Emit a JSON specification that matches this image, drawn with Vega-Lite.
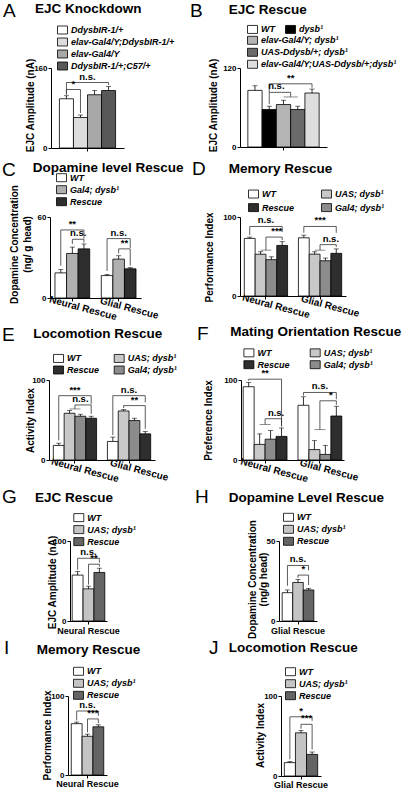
{
"$schema": "https://vega.github.io/schema/vega-lite/v6.json",
"padding": 0,
"background": "white",
"datasets": {
"bars": [
{"p":"A","bar":"a1","geno":"DdysbIR-1/+","mean":98.5,"upper":104.5},
{"p":"A","bar":"a2","geno":"elav-Gal4/Y;DdysbIR-1/+","mean":61,"upper":66},
{"p":"A","bar":"a3","geno":"elav-Gal4/Y","mean":106.5,"upper":115},
{"p":"A","bar":"a4","geno":"DdysbIR-1/+;C57/+","mean":115,"upper":123},
{"p":"B","bar":"b1","geno":"WT","mean":86,"upper":93},
{"p":"B","bar":"b2","geno":"dysb¹","mean":57,"upper":62},
{"p":"B","bar":"b3","geno":"elav-Gal4/Y; dysb¹","mean":64.5,"upper":71},
{"p":"B","bar":"b4","geno":"UAS-Ddysb/+; dysb¹","mean":57,"upper":62},
{"p":"B","bar":"b5","geno":"elav-Gal4/Y;UAS-Ddysb/+;dysb¹","mean":82,"upper":88},
{"p":"C","bar":"c1","geno":"WT","mean":18.6,"upper":21},
{"p":"C","bar":"c2","geno":"Gal4; dysb¹","mean":33,"upper":37.7},
{"p":"C","bar":"c3","geno":"Rescue","mean":36.4,"upper":40},
{"p":"C","bar":"c5","geno":"WT","mean":16.6,"upper":17.4},
{"p":"C","bar":"c6","geno":"Gal4; dysb¹","mean":28.8,"upper":31.3},
{"p":"C","bar":"c7","geno":"Rescue","mean":21.6,"upper":22.4},
{"p":"D","bar":"d1","geno":"WT","mean":72.9,"upper":74.6},
{"p":"D","bar":"d2","geno":"UAS; dysb¹","mean":52.9,"upper":56},
{"p":"D","bar":"d3","geno":"Gal4; dysb¹","mean":46,"upper":49.6},
{"p":"D","bar":"d4","geno":"Rescue","mean":64,"upper":68.8},
{"p":"D","bar":"d6","geno":"WT","mean":73.7,"upper":77},
{"p":"D","bar":"d7","geno":"UAS; dysb¹","mean":53,"upper":56},
{"p":"D","bar":"d8","geno":"Gal4; dysb¹","mean":44.6,"upper":48},
{"p":"D","bar":"d9","geno":"Rescue","mean":54,"upper":59.6},
{"p":"E","bar":"e1","geno":"WT","mean":18.2,"upper":21},
{"p":"E","bar":"e2","geno":"UAS; dysb¹","mean":58.4,"upper":61.8},
{"p":"E","bar":"e3","geno":"Gal4; dysb¹","mean":54.7,"upper":57.2},
{"p":"E","bar":"e4","geno":"Rescue","mean":52.2,"upper":54.7},
{"p":"E","bar":"e6","geno":"WT","mean":23.2,"upper":28.6},
{"p":"E","bar":"e7","geno":"UAS; dysb¹","mean":61.3,"upper":63},
{"p":"E","bar":"e8","geno":"Gal4; dysb¹","mean":49.3,"upper":52.2},
{"p":"E","bar":"e9","geno":"Rescue","mean":32.7,"upper":35.6},
{"p":"F","bar":"f1","geno":"WT","mean":91.6,"upper":97},
{"p":"F","bar":"f2","geno":"UAS; dysb¹","mean":19.5,"upper":32.6},
{"p":"F","bar":"f3","geno":"Gal4; dysb¹","mean":26,"upper":36.8},
{"p":"F","bar":"f4","geno":"Rescue","mean":29.5,"upper":40},
{"p":"F","bar":"f6","geno":"WT","mean":68.4,"upper":79},
{"p":"F","bar":"f7","geno":"UAS; dysb¹","mean":13,"upper":24.2},
{"p":"F","bar":"f8","geno":"Gal4; dysb¹","mean":7,"upper":18.3},
{"p":"F","bar":"f9","geno":"Rescue","mean":55,"upper":67.2},
{"p":"G","bar":"g1","geno":"WT","mean":57.4,"upper":62},
{"p":"G","bar":"g2","geno":"UAS; dysb¹","mean":40.2,"upper":43.5},
{"p":"G","bar":"g3","geno":"Rescue","mean":60.7,"upper":66},
{"p":"H","bar":"h1","geno":"WT","mean":17.7,"upper":19.4},
{"p":"H","bar":"h2","geno":"UAS; dysb¹","mean":24.1,"upper":26},
{"p":"H","bar":"h3","geno":"Rescue","mean":19.4,"upper":20.4},
{"p":"I","bar":"i1","geno":"WT","mean":65,"upper":67},
{"p":"I","bar":"i2","geno":"UAS; dysb¹","mean":49,"upper":51.7},
{"p":"I","bar":"i3","geno":"Rescue","mean":61,"upper":63.5},
{"p":"J","bar":"j1","geno":"WT","mean":16.7,"upper":18},
{"p":"J","bar":"j2","geno":"UAS; dysb¹","mean":54,"upper":57},
{"p":"J","bar":"j3","geno":"Rescue","mean":27,"upper":30}
],
"brackets": [
{"p":"A","a":"a1","aE":0,"b":"a4","bE":0,"y":131,"ya":107,"yb":126,"label":"n.s.","at":"a3","atE":1},
{"p":"A","a":"a1","aE":0,"b":"a2","bE":0,"y":117,"ya":107,"yb":70,"label":"*","at":"a2","atE":1},
{"p":"B","a":"b2","aE":0,"b":"b5","bE":0,"y":96,"ya":83,"yb":90,"label":"**","at":"b4","atE":1},
{"p":"B","a":"b2","aE":0,"b":"b4","bE":1,"y":83,"ya":65,"yb":76,"label":"n.s.","at":"b3","atE":1},
{"p":"C","a":"c1","aE":0,"b":"c3","bE":0,"y":50.4,"ya":24,"yb":44,"label":"**","at":"c2","atE":0},
{"p":"C","a":"c2","aE":0,"b":"c3","bE":0,"y":43.5,"ya":40,"yb":41,"label":"n.s.","at":"c3","atE":1},
{"p":"C","a":"c5","aE":0,"b":"c7","bE":0,"y":44,"ya":20,"yb":37,"label":"n.s.","at":"c6","atE":0},
{"p":"C","a":"c6","aE":0,"b":"c7","bE":0,"y":36.4,"ya":33,"yb":24,"label":"**","at":"c7","atE":1},
{"p":"D","a":"d1","aE":0,"b":"d4","bE":0,"y":88,"ya":77,"yb":81,"label":"n.s.","at":"d3","atE":1},
{"p":"D","a":"d3","aE":1,"b":"d4","bE":0,"y":74.6,"ya":58,"yb":71,"label":"***","at":"d4","atE":1},
{"p":"D","a":"d6","aE":0,"b":"d9","bE":0,"y":88,"ya":80,"yb":80,"label":"***","at":"d8","atE":1},
{"p":"D","a":"d8","aE":1,"b":"d9","bE":0,"y":65,"ya":58,"yb":62,"label":"n.s.","at":"d9","atE":1},
{"p":"E","a":"e1","aE":0,"b":"e4","bE":0,"y":80.4,"ya":24.5,"yb":70,"label":"***","at":"e3","atE":1},
{"p":"E","a":"e3","aE":1,"b":"e4","bE":0,"y":68.8,"ya":63.8,"yb":57.6,"label":"n.s.","at":"e3","atE":0},
{"p":"E","a":"e6","aE":0,"b":"e9","bE":0,"y":80.4,"ya":31,"yb":72,"label":"n.s.","at":"e8","atE":1},
{"p":"E","a":"e7","aE":0,"b":"e9","bE":0,"y":68,"ya":65,"yb":39,"label":"**","at":"e8","atE":0},
{"p":"F","a":"f1","aE":0,"b":"f4","bE":0,"y":101,"ya":99,"yb":42,"label":"**","at":"f3","atE":1},
{"p":"F","a":"f3","aE":1,"b":"f4","bE":0,"y":51.6,"ya":44.4,"yb":42,"label":"n.s.","at":"f4","atE":1},
{"p":"F","a":"f6","aE":0,"b":"f9","bE":0,"y":84.4,"ya":80.5,"yb":76,"label":"n.s.","at":"f8","atE":1},
{"p":"F","a":"f8","aE":1,"b":"f9","bE":0,"y":74,"ya":38,"yb":69,"label":"*","at":"f9","atE":1},
{"p":"G","a":"g1","aE":0,"b":"g3","bE":0,"y":78.4,"ya":64,"yb":73,"label":"n.s.","at":"g2","atE":0},
{"p":"G","a":"g2","aE":0,"b":"g3","bE":0,"y":71,"ya":45.5,"yb":68,"label":"**","at":"g3","atE":1},
{"p":"H","a":"h1","aE":0,"b":"h3","bE":0,"y":34.7,"ya":22,"yb":31.7,"label":"n.s.","at":"h2","atE":0},
{"p":"H","a":"h2","aE":0,"b":"h3","bE":0,"y":28.7,"ya":27,"yb":22.5,"label":"*","at":"h3","atE":1},
{"p":"I","a":"i1","aE":0,"b":"i3","bE":0,"y":81,"ya":69,"yb":75,"label":"n.s.","at":"i2","atE":0},
{"p":"I","a":"i2","aE":0,"b":"i3","bE":0,"y":71,"ya":54,"yb":65.5,"label":"***","at":"i3","atE":1},
{"p":"J","a":"j1","aE":0,"b":"j3","bE":0,"y":74,"ya":21,"yb":69,"label":"*","at":"j2","atE":0},
{"p":"J","a":"j2","aE":0,"b":"j3","bE":0,"y":64.6,"ya":59,"yb":33,"label":"***","at":"j3","atE":1}
],
"subs": [
{"p":"B","a":"b3","b":"b4","y":76},
{"p":"D","a":"d2","b":"d3","y":58},
{"p":"D","a":"d7","b":"d8","y":58},
{"p":"E","a":"e2","b":"e3","y":63.8},
{"p":"F","a":"f2","b":"f3","y":44.4},
{"p":"F","a":"f7","b":"f8","y":38}
]
},
"config": {
"font": "Liberation Sans",
"view": {"stroke": null},
"axis": {"labelFont": "Liberation Sans","labelFontWeight": "bold","labelFontSize": 8,"labelColor": "black","titleFont": "Liberation Sans","titleFontWeight": "bold","titleFontSize": 10,"titleColor": "black","domainColor": "black","domainWidth": 1,"tickColor": "black","tickSize": 3,"tickWidth": 1,"grid": false,"labelPadding": 1},
"axisY": {"titleAngle": -90,"titleAlign": "center","titleBaseline": "alphabetic","labelFlush": false,"labelOverlap": false},
"axisX": {"labelOverlap": false,"labelFlush": false},
"legend": {"labelFont": "Liberation Sans","labelFontStyle": "italic","labelFontWeight": "bold","labelFontSize": 9,"labelColor": "black","symbolType": "M-1,-0.8H1V0.8H-1Z","symbolSize": 100,"symbolStrokeColor": "black","symbolStrokeWidth": 0.8,"symbolOpacity": 1,"padding": 0,"labelOffset": 3,"rowPadding": 2,"columnPadding": 10},
"title": {"font": "Liberation Sans","color": "black","anchor": "start","frame": "group","baseline": "alphabetic"}
},
"spacing": 0,
"bounds": "flush",
"columns": 6,
"resolve": {"scale": {"fill": "independent"}, "legend": {"fill": "independent"}},
"concat": [
{"width": 1, "height": 68, "data": {"values": []}, "mark": "point"},
{"width": 1, "height": 1, "data": {"values": []}, "mark": "point"},
{"width": 198, "height": 1, "data": {"values": []}, "mark": "point"},
{"width": 1, "height": 1, "data": {"values": []}, "mark": "point"},
{"width": 1, "height": 1, "data": {"values": []}, "mark": "point"},
{"width": 150, "height": 1, "data": {"values": []}, "mark": "point"},
{"width": 1, "height": 149, "data": {"values": []}, "mark": "point", "title": {"text": "A", "offset": 47, "dx": 3, "fontSize": 19, "fontWeight": "normal"}},
{"width": 1, "height": 10, "data": {"values": []}, "mark": "point", "title": {"text": "EJC Knockdown", "offset": 53, "dx": 34, "fontSize": 13.5, "fontWeight": "bold"}},
{"width": 198, "height": 80, "layer": [
{"data":{"name":"bars"},"transform":[{"filter":"datum.p=='A'"}],"mark":{"type":"bar","stroke":"black","strokeWidth":0.8},"encoding":{
"x":{"field":"bar","type":"nominal","scale":{"type":"band","domain":["a1","a2","a3","a4"],"range":[49,122],"paddingInner":0,"paddingOuter":0.6},"axis":{"title":null,"labels":false,"values":["a3"],"bandPosition":0}},
"y":{"field":"mean","type":"quantitative","scale":{"domain":[0,160],"nice":false},"axis":{"offset":-49,"values":[0,20,40,60,80,100,120,140,160],"labelExpr":"datum.value % 40 == 0 ? datum.label : ''","title":"EJC Amplitude (nA)","titleX":-17.4,"titleY":37}},
"fill":{"field":"geno","type":"nominal","scale":{"domain":["DdysbIR-1/+","elav-Gal4/Y;DdysbIR-1/+","elav-Gal4/Y","DdysbIR-1/+;C57/+"],"range":["#ffffff","#dcdcdc","#a8a8a8","#585858"]},"legend":{"title":null,"orient":"none","legendX":55,"legendY":-43.5,"rowPadding":-1.3}}}},
{"data":{"name":"bars"},"transform":[{"filter":"datum.p=='A'"}],"mark":{"type":"rule","color":"black","strokeWidth":0.8},"encoding":{"x":{"field":"bar","type":"nominal"},"y":{"field":"mean","type":"quantitative"},"y2":{"field":"upper"}}},
{"data":{"name":"bars"},"transform":[{"filter":"datum.p=='A'"}],"mark":{"type":"tick","orient":"horizontal","size":5,"thickness":0.8,"color":"black"},"encoding":{"x":{"field":"bar","type":"nominal"},"y":{"field":"upper","type":"quantitative"}}},
{"data":{"name":"brackets"},"transform":[{"filter":"datum.p=='A' && datum.aE==0 && datum.bE==0"}],"mark":{"type":"rule","color":"#333","strokeWidth":0.8},"encoding":{"x":{"field":"a","type":"nominal"},"x2":{"field":"b"},"y":{"field":"y","type":"quantitative"}}},
{"data":{"name":"brackets"},"transform":[{"filter":"datum.p=='A' && datum.aE==0"}],"mark":{"type":"rule","color":"#333","strokeWidth":0.8},"encoding":{"x":{"field":"a","type":"nominal"},"y":{"field":"ya","type":"quantitative"},"y2":{"field":"y"}}},
{"data":{"name":"brackets"},"transform":[{"filter":"datum.p=='A' && datum.bE==0"}],"mark":{"type":"rule","color":"#333","strokeWidth":0.8},"encoding":{"x":{"field":"b","type":"nominal"},"y":{"field":"yb","type":"quantitative"},"y2":{"field":"y"}}},
{"data":{"name":"brackets"},"transform":[{"filter":"datum.p=='A' && datum.atE==1"}],"mark":{"type":"text","baseline":"bottom","dy":-1,"fontSize":9.5,"fontWeight":"bold","color":"black"},"encoding":{"x":{"field":"at","type":"nominal","bandPosition":0},"y":{"field":"y","type":"quantitative"},"text":{"field":"label"}}}
]},
{"width": 1, "height": 10, "data": {"values": []}, "mark": "point", "title": {"text": "B", "offset": 47, "dx": -10, "fontSize": 19, "fontWeight": "normal"}},
{"width": 1, "height": 10, "data": {"values": []}, "mark": "point", "title": {"text": "EJC Rescue", "offset": 52, "dx": 27.7, "fontSize": 13.5, "fontWeight": "bold"}},
{"width": 150, "height": 79, "resolve": {"scale": {"fill": "independent"}}, "layer": [
{"data":{"name":"bars"},"transform":[{"filter":"datum.p=='B' && (datum.bar=='b1' || datum.bar=='b2')"}],"mark":{"type":"bar","stroke":"black","strokeWidth":0.8},"encoding":{
"x":{"field":"bar","type":"nominal","scale":{"type":"band","domain":["b1","b2","b3","b4","b5"],"range":[38,125],"paddingInner":0,"paddingOuter":0.55},"axis":{"title":null,"labels":false,"values":["b3"]}},
"y":{"field":"mean","type":"quantitative","scale":{"domain":[0,120],"nice":false},"axis":{"offset":-38,"values":[0,20,40,60,80,100,120],"labelExpr":"datum.value % 40 == 0 ? datum.label : ''","title":"EJC Amplitude (nA)","titleX":-23.6,"titleY":37}},
"fill":{"field":"geno","type":"nominal","scale":{"domain":["WT","dysb¹"],"range":["#ffffff","#000000"]},"legend":{"title":null,"orient":"none","legendX":45,"legendY":-44.5,"columns":2,"columnPadding":8}}}},
{"data":{"name":"bars"},"transform":[{"filter":"datum.p=='B' && datum.bar!='b1' && datum.bar!='b2'"}],"mark":{"type":"bar","stroke":"black","strokeWidth":0.8},"encoding":{
"x":{"field":"bar","type":"nominal"},
"y":{"field":"mean","type":"quantitative"},
"fill":{"field":"geno","type":"nominal","scale":{"domain":["elav-Gal4/Y; dysb¹","UAS-Ddysb/+; dysb¹","elav-Gal4/Y;UAS-Ddysb/+;dysb¹"],"range":["#b4b4b4","#6a6a6a","#dedede"]},"legend":{"title":null,"orient":"none","legendX":45,"legendY":-33.2,"rowPadding":-2}}}},
{"data":{"name":"bars"},"transform":[{"filter":"datum.p=='B'"}],"mark":{"type":"rule","color":"black","strokeWidth":0.8},"encoding":{"x":{"field":"bar","type":"nominal"},"y":{"field":"mean","type":"quantitative"},"y2":{"field":"upper"}}},
{"data":{"name":"bars"},"transform":[{"filter":"datum.p=='B'"}],"mark":{"type":"tick","orient":"horizontal","size":5,"thickness":0.8,"color":"black"},"encoding":{"x":{"field":"bar","type":"nominal"},"y":{"field":"upper","type":"quantitative"}}},
{"data":{"name":"subs"},"transform":[{"filter":"datum.p=='B'"}],"mark":{"type":"rule","color":"#8c8c8c","strokeWidth":1},"encoding":{"x":{"field":"a","type":"nominal"},"x2":{"field":"b"},"y":{"field":"y","type":"quantitative"}}},
{"data":{"name":"brackets"},"transform":[{"filter":"datum.p=='B' && datum.aE==0 && datum.bE==0"}],"mark":{"type":"rule","color":"#333","strokeWidth":0.8},"encoding":{"x":{"field":"a","type":"nominal"},"x2":{"field":"b"},"y":{"field":"y","type":"quantitative"}}},
{"data":{"name":"brackets"},"transform":[{"filter":"datum.p=='B' && datum.bE==1"}],"mark":{"type":"rule","color":"#333","strokeWidth":0.8},"encoding":{"x":{"field":"a","type":"nominal"},"x2":{"field":"b","bandPosition":0},"y":{"field":"y","type":"quantitative"}}},
{"data":{"name":"brackets"},"transform":[{"filter":"datum.p=='B' && datum.aE==0"}],"mark":{"type":"rule","color":"#333","strokeWidth":0.8},"encoding":{"x":{"field":"a","type":"nominal"},"y":{"field":"ya","type":"quantitative"},"y2":{"field":"y"}}},
{"data":{"name":"brackets"},"transform":[{"filter":"datum.p=='B' && datum.bE==0"}],"mark":{"type":"rule","color":"#333","strokeWidth":0.8},"encoding":{"x":{"field":"b","type":"nominal"},"y":{"field":"yb","type":"quantitative"},"y2":{"field":"y"}}},
{"data":{"name":"brackets"},"transform":[{"filter":"datum.p=='B' && datum.bE==1"}],"mark":{"type":"rule","color":"#333","strokeWidth":0.8},"encoding":{"x":{"field":"b","type":"nominal","bandPosition":0},"y":{"field":"yb","type":"quantitative"},"y2":{"field":"y"}}},
{"data":{"name":"brackets"},"transform":[{"filter":"datum.p=='B' && datum.atE==1"}],"mark":{"type":"text","baseline":"bottom","dy":-1,"fontSize":9.5,"fontWeight":"bold","color":"black"},"encoding":{"x":{"field":"at","type":"nominal","bandPosition":0},"y":{"field":"y","type":"quantitative"},"text":{"field":"label"}}}
]},
{"width": 1, "height": 163, "data": {"values": []}, "mark": "point", "title": {"text": "C", "offset": 37, "dx": 2, "fontSize": 19, "fontWeight": "normal"}},
{"width": 1, "height": 10, "data": {"values": []}, "mark": "point", "title": {"text": "Dopamine level Rescue", "offset": 43, "dx": 31.7, "fontSize": 13.5, "fontWeight": "bold"}},
{"width": 198, "height": 81, "layer": [
{"data":{"name":"bars"},"transform":[{"filter":"datum.p=='C'"}],"mark":{"type":"bar","stroke":"black","strokeWidth":0.8},"encoding":{
"x":{"field":"bar","type":"nominal","scale":{"type":"band","domain":["c1","c2","c3","c4","c5","c6","c7"],"range":[48,139],"paddingInner":0,"paddingOuter":0.43},"axis":{"title":null,"values":["c2","c6"],"labelExpr":"datum.value=='c2' ? 'Neural Rescue' : 'Glial Rescue'","labelAngle":15,"labelAlign":"center","labelBaseline":"top","labelOffset":12,"labelFontSize":10,"labelPadding":2}},
"y":{"field":"mean","type":"quantitative","scale":{"domain":[0,60],"nice":false},"axis":{"offset":-48,"values":[0,5,10,15,20,25,30,35,40,45,50,55,60],"labelExpr":"datum.value % 10 == 0 ? datum.label : ''","title":["Dopamine Concentration","(ng/ g head)"],"titleX":-32.4,"titleY":27,"titleLineHeight":13}},
"fill":{"field":"geno","type":"nominal","scale":{"domain":["WT","Gal4; dysb¹","Rescue"],"range":["#ffffff","#b0b0b0","#2e2e2e"]},"legend":{"title":null,"orient":"none","legendX":54,"legendY":-44.8,"rowPadding":-2.5}}}},
{"data":{"name":"bars"},"transform":[{"filter":"datum.p=='C'"}],"mark":{"type":"rule","color":"black","strokeWidth":0.8},"encoding":{"x":{"field":"bar","type":"nominal"},"y":{"field":"mean","type":"quantitative"},"y2":{"field":"upper"}}},
{"data":{"name":"bars"},"transform":[{"filter":"datum.p=='C'"}],"mark":{"type":"tick","orient":"horizontal","size":5,"thickness":0.8,"color":"black"},"encoding":{"x":{"field":"bar","type":"nominal"},"y":{"field":"upper","type":"quantitative"}}},
{"data":{"name":"brackets"},"transform":[{"filter":"datum.p=='C' && datum.aE==0 && datum.bE==0"}],"mark":{"type":"rule","color":"#333","strokeWidth":0.8},"encoding":{"x":{"field":"a","type":"nominal"},"x2":{"field":"b"},"y":{"field":"y","type":"quantitative"}}},
{"data":{"name":"brackets"},"transform":[{"filter":"datum.p=='C' && datum.aE==0"}],"mark":{"type":"rule","color":"#333","strokeWidth":0.8},"encoding":{"x":{"field":"a","type":"nominal"},"y":{"field":"ya","type":"quantitative"},"y2":{"field":"y"}}},
{"data":{"name":"brackets"},"transform":[{"filter":"datum.p=='C' && datum.bE==0"}],"mark":{"type":"rule","color":"#333","strokeWidth":0.8},"encoding":{"x":{"field":"b","type":"nominal"},"y":{"field":"yb","type":"quantitative"},"y2":{"field":"y"}}},
{"data":{"name":"brackets"},"transform":[{"filter":"datum.p=='C' && datum.atE==0"}],"mark":{"type":"text","baseline":"bottom","dy":-1,"fontSize":9.5,"fontWeight":"bold","color":"black"},"encoding":{"x":{"field":"at","type":"nominal"},"y":{"field":"y","type":"quantitative"},"text":{"field":"label"}}},
{"data":{"name":"brackets"},"transform":[{"filter":"datum.p=='C' && datum.atE==1"}],"mark":{"type":"text","baseline":"bottom","dy":-1,"fontSize":9.5,"fontWeight":"bold","color":"black"},"encoding":{"x":{"field":"at","type":"nominal","bandPosition":0},"y":{"field":"y","type":"quantitative"},"text":{"field":"label"}}}
]},
{"width": 1, "height": 10, "data": {"values": []}, "mark": "point", "title": {"text": "D", "offset": 38, "dx": -8, "fontSize": 19, "fontWeight": "normal"}},
{"width": 1, "height": 10, "data": {"values": []}, "mark": "point", "title": {"text": "Memory Rescue", "offset": 42, "dx": 27.7, "fontSize": 13.5, "fontWeight": "bold"}},
{"width": 150, "height": 79, "layer": [
{"data":{"name":"bars"},"transform":[{"filter":"datum.p=='D'"}],"mark":{"type":"bar","stroke":"black","strokeWidth":0.8},"encoding":{
"x":{"field":"bar","type":"nominal","scale":{"type":"band","domain":["d1","d2","d3","d4","d5","d6","d7","d8","d9"],"range":[38,144],"paddingInner":0,"paddingOuter":0.4},"axis":{"title":null,"values":["d3","d8"],"bandPosition":0,"labelExpr":"datum.value=='d3' ? 'Neural Rescue' : 'Glial Rescue'","labelAngle":15,"labelAlign":"center","labelBaseline":"top","labelOffset":6,"labelFontSize":10,"labelPadding":2}},
"y":{"field":"mean","type":"quantitative","scale":{"domain":[0,100],"nice":false},"axis":{"offset":-38,"values":[0,10,20,30,40,50,60,70,80,90,100],"labelExpr":"datum.value % 20 == 0 ? datum.label : ''","title":"Performance Index","titleX":-27.1,"titleY":40}},
"fill":{"field":"geno","type":"nominal","scale":{"domain":["WT","Rescue","UAS; dysb¹","Gal4; dysb¹"],"range":["#ffffff","#2e2e2e","#c8c8c8","#8c8c8c"]},"legend":{"title":null,"orient":"none","legendX":46,"legendY":-28.9,"columns":2,"columnPadding":24,"rowPadding":1}}}},
{"data":{"name":"bars"},"transform":[{"filter":"datum.p=='D'"}],"mark":{"type":"rule","color":"black","strokeWidth":0.8},"encoding":{"x":{"field":"bar","type":"nominal"},"y":{"field":"mean","type":"quantitative"},"y2":{"field":"upper"}}},
{"data":{"name":"bars"},"transform":[{"filter":"datum.p=='D'"}],"mark":{"type":"tick","orient":"horizontal","size":5,"thickness":0.8,"color":"black"},"encoding":{"x":{"field":"bar","type":"nominal"},"y":{"field":"upper","type":"quantitative"}}},
{"data":{"name":"subs"},"transform":[{"filter":"datum.p=='D'"}],"mark":{"type":"rule","color":"#8c8c8c","strokeWidth":1},"encoding":{"x":{"field":"a","type":"nominal"},"x2":{"field":"b"},"y":{"field":"y","type":"quantitative"}}},
{"data":{"name":"brackets"},"transform":[{"filter":"datum.p=='D' && datum.aE==0 && datum.bE==0"}],"mark":{"type":"rule","color":"#333","strokeWidth":0.8},"encoding":{"x":{"field":"a","type":"nominal"},"x2":{"field":"b"},"y":{"field":"y","type":"quantitative"}}},
{"data":{"name":"brackets"},"transform":[{"filter":"datum.p=='D' && datum.aE==1"}],"mark":{"type":"rule","color":"#333","strokeWidth":0.8},"encoding":{"x":{"field":"a","type":"nominal","bandPosition":0},"x2":{"field":"b"},"y":{"field":"y","type":"quantitative"}}},
{"data":{"name":"brackets"},"transform":[{"filter":"datum.p=='D' && datum.aE==0"}],"mark":{"type":"rule","color":"#333","strokeWidth":0.8},"encoding":{"x":{"field":"a","type":"nominal"},"y":{"field":"ya","type":"quantitative"},"y2":{"field":"y"}}},
{"data":{"name":"brackets"},"transform":[{"filter":"datum.p=='D' && datum.aE==1"}],"mark":{"type":"rule","color":"#333","strokeWidth":0.8},"encoding":{"x":{"field":"a","type":"nominal","bandPosition":0},"y":{"field":"ya","type":"quantitative"},"y2":{"field":"y"}}},
{"data":{"name":"brackets"},"transform":[{"filter":"datum.p=='D' && datum.bE==0"}],"mark":{"type":"rule","color":"#333","strokeWidth":0.8},"encoding":{"x":{"field":"b","type":"nominal"},"y":{"field":"yb","type":"quantitative"},"y2":{"field":"y"}}},
{"data":{"name":"brackets"},"transform":[{"filter":"datum.p=='D' && datum.atE==1"}],"mark":{"type":"text","baseline":"bottom","dy":-1,"fontSize":9.5,"fontWeight":"bold","color":"black"},"encoding":{"x":{"field":"at","type":"nominal","bandPosition":0},"y":{"field":"y","type":"quantitative"},"text":{"field":"label"}}}
]},
{"width": 1, "height": 161, "data": {"values": []}, "mark": "point", "title": {"text": "E", "offset": 35, "dx": 2, "fontSize": 19, "fontWeight": "normal"}},
{"width": 1, "height": 10, "data": {"values": []}, "mark": "point", "title": {"text": "Locomotion Rescue", "offset": 40, "dx": 32.3, "fontSize": 13.5, "fontWeight": "bold"}},
{"width": 198, "height": 80, "layer": [
{"data":{"name":"bars"},"transform":[{"filter":"datum.p=='E'"}],"mark":{"type":"bar","stroke":"black","strokeWidth":0.8},"encoding":{
"x":{"field":"bar","type":"nominal","scale":{"type":"band","domain":["e1","e2","e3","e4","e5","e6","e7","e8","e9"],"range":[47,153],"paddingInner":0,"paddingOuter":0.4},"axis":{"title":null,"values":["e3","e8"],"bandPosition":0,"labelExpr":"datum.value=='e3' ? 'Neural Rescue' : 'Glial Rescue'","labelAngle":15,"labelAlign":"center","labelBaseline":"top","labelOffset":6,"labelFontSize":10,"labelPadding":2}},
"y":{"field":"mean","type":"quantitative","scale":{"domain":[0,100],"nice":false},"axis":{"offset":-47,"values":[0,10,20,30,40,50,60,70,80,90,100],"labelExpr":"datum.value % 20 == 0 ? datum.label : ''","title":"Activity Index","titleX":-15.4,"titleY":40}},
"fill":{"field":"geno","type":"nominal","scale":{"domain":["WT","Rescue","UAS; dysb¹","Gal4; dysb¹"],"range":["#ffffff","#2e2e2e","#c8c8c8","#8c8c8c"]},"legend":{"title":null,"orient":"none","legendX":51,"legendY":-27.5,"columns":2,"columnPadding":11.7,"rowPadding":-1.3}}}},
{"data":{"name":"bars"},"transform":[{"filter":"datum.p=='E'"}],"mark":{"type":"rule","color":"black","strokeWidth":0.8},"encoding":{"x":{"field":"bar","type":"nominal"},"y":{"field":"mean","type":"quantitative"},"y2":{"field":"upper"}}},
{"data":{"name":"bars"},"transform":[{"filter":"datum.p=='E'"}],"mark":{"type":"tick","orient":"horizontal","size":5,"thickness":0.8,"color":"black"},"encoding":{"x":{"field":"bar","type":"nominal"},"y":{"field":"upper","type":"quantitative"}}},
{"data":{"name":"subs"},"transform":[{"filter":"datum.p=='E'"}],"mark":{"type":"rule","color":"#8c8c8c","strokeWidth":1},"encoding":{"x":{"field":"a","type":"nominal"},"x2":{"field":"b"},"y":{"field":"y","type":"quantitative"}}},
{"data":{"name":"brackets"},"transform":[{"filter":"datum.p=='E' && datum.aE==0 && datum.bE==0"}],"mark":{"type":"rule","color":"#333","strokeWidth":0.8},"encoding":{"x":{"field":"a","type":"nominal"},"x2":{"field":"b"},"y":{"field":"y","type":"quantitative"}}},
{"data":{"name":"brackets"},"transform":[{"filter":"datum.p=='E' && datum.aE==1"}],"mark":{"type":"rule","color":"#333","strokeWidth":0.8},"encoding":{"x":{"field":"a","type":"nominal","bandPosition":0},"x2":{"field":"b"},"y":{"field":"y","type":"quantitative"}}},
{"data":{"name":"brackets"},"transform":[{"filter":"datum.p=='E' && datum.aE==0"}],"mark":{"type":"rule","color":"#333","strokeWidth":0.8},"encoding":{"x":{"field":"a","type":"nominal"},"y":{"field":"ya","type":"quantitative"},"y2":{"field":"y"}}},
{"data":{"name":"brackets"},"transform":[{"filter":"datum.p=='E' && datum.aE==1"}],"mark":{"type":"rule","color":"#333","strokeWidth":0.8},"encoding":{"x":{"field":"a","type":"nominal","bandPosition":0},"y":{"field":"ya","type":"quantitative"},"y2":{"field":"y"}}},
{"data":{"name":"brackets"},"transform":[{"filter":"datum.p=='E' && datum.bE==0"}],"mark":{"type":"rule","color":"#333","strokeWidth":0.8},"encoding":{"x":{"field":"b","type":"nominal"},"y":{"field":"yb","type":"quantitative"},"y2":{"field":"y"}}},
{"data":{"name":"brackets"},"transform":[{"filter":"datum.p=='E' && datum.atE==0"}],"mark":{"type":"text","baseline":"bottom","dy":-1,"fontSize":9.5,"fontWeight":"bold","color":"black"},"encoding":{"x":{"field":"at","type":"nominal"},"y":{"field":"y","type":"quantitative"},"text":{"field":"label"}}},
{"data":{"name":"brackets"},"transform":[{"filter":"datum.p=='E' && datum.atE==1"}],"mark":{"type":"text","baseline":"bottom","dy":-1,"fontSize":9.5,"fontWeight":"bold","color":"black"},"encoding":{"x":{"field":"at","type":"nominal","bandPosition":0},"y":{"field":"y","type":"quantitative"},"text":{"field":"label"}}}
]},
{"width": 1, "height": 10, "data": {"values": []}, "mark": "point", "title": {"text": "F", "offset": 36, "dx": -3, "fontSize": 19, "fontWeight": "normal"}},
{"width": 1, "height": 10, "data": {"values": []}, "mark": "point", "title": {"text": "Mating Orientation Rescue", "offset": 42, "dx": 29.3, "fontSize": 13.5, "fontWeight": "bold"}},
{"width": 150, "height": 80, "layer": [
{"data":{"name":"bars"},"transform":[{"filter":"datum.p=='F'"}],"mark":{"type":"bar","stroke":"black","strokeWidth":0.8},"encoding":{
"x":{"field":"bar","type":"nominal","scale":{"type":"band","domain":["f1","f2","f3","f4","f5","f6","f7","f8","f9"],"range":[39,142],"paddingInner":0,"paddingOuter":0.2},"axis":{"title":null,"values":["f3","f8"],"bandPosition":0,"labelExpr":"datum.value=='f3' ? 'Neural Rescue' : 'Glial Rescue'","labelAngle":15,"labelAlign":"center","labelBaseline":"top","labelOffset":5,"labelFontSize":10,"labelPadding":2}},
"y":{"field":"mean","type":"quantitative","scale":{"domain":[0,100],"nice":false},"axis":{"offset":-39,"values":[0,10,20,30,40,50,60,70,80,90,100],"labelExpr":"datum.value % 20 == 0 ? datum.label : ''","title":"Preference Index","titleX":-29.4,"titleY":40}},
"fill":{"field":"geno","type":"nominal","scale":{"domain":["WT","Rescue","UAS; dysb¹","Gal4; dysb¹"],"range":["#ffffff","#2e2e2e","#c8c8c8","#8c8c8c"]},"legend":{"title":null,"orient":"none","legendX":41.4,"legendY":-33.1,"columns":2,"columnPadding":17.3,"rowPadding":-0.7}}}},
{"data":{"name":"bars"},"transform":[{"filter":"datum.p=='F'"}],"mark":{"type":"rule","color":"black","strokeWidth":0.8},"encoding":{"x":{"field":"bar","type":"nominal"},"y":{"field":"mean","type":"quantitative"},"y2":{"field":"upper"}}},
{"data":{"name":"bars"},"transform":[{"filter":"datum.p=='F'"}],"mark":{"type":"tick","orient":"horizontal","size":5,"thickness":0.8,"color":"black"},"encoding":{"x":{"field":"bar","type":"nominal"},"y":{"field":"upper","type":"quantitative"}}},
{"data":{"name":"subs"},"transform":[{"filter":"datum.p=='F'"}],"mark":{"type":"rule","color":"#8c8c8c","strokeWidth":1},"encoding":{"x":{"field":"a","type":"nominal"},"x2":{"field":"b"},"y":{"field":"y","type":"quantitative"}}},
{"data":{"name":"brackets"},"transform":[{"filter":"datum.p=='F' && datum.aE==0 && datum.bE==0"}],"mark":{"type":"rule","color":"#333","strokeWidth":0.8},"encoding":{"x":{"field":"a","type":"nominal"},"x2":{"field":"b"},"y":{"field":"y","type":"quantitative"}}},
{"data":{"name":"brackets"},"transform":[{"filter":"datum.p=='F' && datum.aE==1"}],"mark":{"type":"rule","color":"#333","strokeWidth":0.8},"encoding":{"x":{"field":"a","type":"nominal","bandPosition":0},"x2":{"field":"b"},"y":{"field":"y","type":"quantitative"}}},
{"data":{"name":"brackets"},"transform":[{"filter":"datum.p=='F' && datum.aE==0"}],"mark":{"type":"rule","color":"#333","strokeWidth":0.8},"encoding":{"x":{"field":"a","type":"nominal"},"y":{"field":"ya","type":"quantitative"},"y2":{"field":"y"}}},
{"data":{"name":"brackets"},"transform":[{"filter":"datum.p=='F' && datum.aE==1"}],"mark":{"type":"rule","color":"#333","strokeWidth":0.8},"encoding":{"x":{"field":"a","type":"nominal","bandPosition":0},"y":{"field":"ya","type":"quantitative"},"y2":{"field":"y"}}},
{"data":{"name":"brackets"},"transform":[{"filter":"datum.p=='F' && datum.bE==0"}],"mark":{"type":"rule","color":"#333","strokeWidth":0.8},"encoding":{"x":{"field":"b","type":"nominal"},"y":{"field":"yb","type":"quantitative"},"y2":{"field":"y"}}},
{"data":{"name":"brackets"},"transform":[{"filter":"datum.p=='F' && datum.atE==1"}],"mark":{"type":"text","baseline":"bottom","dy":-1,"fontSize":9.5,"fontWeight":"bold","color":"black"},"encoding":{"x":{"field":"at","type":"nominal","bandPosition":0},"y":{"field":"y","type":"quantitative"},"text":{"field":"label"}}}
]},
{"width": 1, "height": 155, "data": {"values": []}, "mark": "point", "title": {"text": "G", "offset": 34, "dx": 2, "fontSize": 19, "fontWeight": "normal"}},
{"width": 1, "height": 10, "data": {"values": []}, "mark": "point", "title": {"text": "EJC Rescue", "offset": 37, "dx": 34, "fontSize": 13.5, "fontWeight": "bold"}},
{"width": 198, "height": 80, "layer": [
{"data":{"name":"bars"},"transform":[{"filter":"datum.p=='G'"}],"mark":{"type":"bar","stroke":"black","strokeWidth":0.8},"encoding":{
"x":{"field":"bar","type":"nominal","scale":{"type":"band","domain":["g1","g2","g3"],"range":[68,105],"paddingInner":0,"paddingOuter":0.2},"axis":{"title":null,"values":["g2"],"labelExpr":"'Neural Rescue'","labelAngle":0,"labelFontSize":9,"labelPadding":2}},
"y":{"field":"mean","type":"quantitative","scale":{"domain":[0,100],"nice":false},"axis":{"offset":-68,"values":[0,10,20,30,40,50,60,70,80,90,100],"labelExpr":"datum.value % 20 == 0 ? datum.label : ''","title":"EJC Amplitude (nA)","titleX":-14.4,"titleY":41}},
"fill":{"field":"geno","type":"nominal","scale":{"domain":["WT","UAS; dysb¹","Rescue"],"range":["#ffffff","#c4c4c4","#646464"]},"legend":{"title":null,"orient":"none","legendX":71.3,"legendY":-28.9,"rowPadding":-1.2}}}},
{"data":{"name":"bars"},"transform":[{"filter":"datum.p=='G'"}],"mark":{"type":"rule","color":"black","strokeWidth":0.8},"encoding":{"x":{"field":"bar","type":"nominal"},"y":{"field":"mean","type":"quantitative"},"y2":{"field":"upper"}}},
{"data":{"name":"bars"},"transform":[{"filter":"datum.p=='G'"}],"mark":{"type":"tick","orient":"horizontal","size":5,"thickness":0.8,"color":"black"},"encoding":{"x":{"field":"bar","type":"nominal"},"y":{"field":"upper","type":"quantitative"}}},
{"data":{"name":"brackets"},"transform":[{"filter":"datum.p=='G'"}],"mark":{"type":"rule","color":"#333","strokeWidth":0.8},"encoding":{"x":{"field":"a","type":"nominal"},"x2":{"field":"b"},"y":{"field":"y","type":"quantitative"}}},
{"data":{"name":"brackets"},"transform":[{"filter":"datum.p=='G'"}],"mark":{"type":"rule","color":"#333","strokeWidth":0.8},"encoding":{"x":{"field":"a","type":"nominal"},"y":{"field":"ya","type":"quantitative"},"y2":{"field":"y"}}},
{"data":{"name":"brackets"},"transform":[{"filter":"datum.p=='G'"}],"mark":{"type":"rule","color":"#333","strokeWidth":0.8},"encoding":{"x":{"field":"b","type":"nominal"},"y":{"field":"yb","type":"quantitative"},"y2":{"field":"y"}}},
{"data":{"name":"brackets"},"transform":[{"filter":"datum.p=='G' && datum.atE==0"}],"mark":{"type":"text","baseline":"bottom","dy":-1,"fontSize":9.5,"fontWeight":"bold","color":"black"},"encoding":{"x":{"field":"at","type":"nominal"},"y":{"field":"y","type":"quantitative"},"text":{"field":"label"}}},
{"data":{"name":"brackets"},"transform":[{"filter":"datum.p=='G' && datum.atE==1"}],"mark":{"type":"text","baseline":"bottom","dy":-1,"fontSize":9.5,"fontWeight":"bold","color":"black"},"encoding":{"x":{"field":"at","type":"nominal","bandPosition":0},"y":{"field":"y","type":"quantitative"},"text":{"field":"label"}}}
]},
{"width": 1, "height": 10, "data": {"values": []}, "mark": "point", "title": {"text": "H", "offset": 34, "dx": -5, "fontSize": 19, "fontWeight": "normal"}},
{"width": 1, "height": 10, "data": {"values": []}, "mark": "point", "title": {"text": "Dopamine Level Rescue", "offset": 37, "dx": 27.7, "fontSize": 13.5, "fontWeight": "bold"}},
{"width": 150, "height": 80, "layer": [
{"data":{"name":"bars"},"transform":[{"filter":"datum.p=='H'"}],"mark":{"type":"bar","stroke":"black","strokeWidth":0.8},"encoding":{
"x":{"field":"bar","type":"nominal","scale":{"type":"band","domain":["h1","h2","h3"],"range":[77,115],"paddingInner":0,"paddingOuter":0.3},"axis":{"title":null,"values":["h2"],"labelExpr":"'Glial Rescue'","labelAngle":0,"labelFontSize":9,"labelPadding":2}},
"y":{"field":"mean","type":"quantitative","scale":{"domain":[0,50],"nice":false},"axis":{"offset":-77,"values":[0,5,10,15,20,25,30,35,40,45,50],"labelExpr":"datum.value % 10 == 0 ? datum.label : ''","title":["Dopamine Concentration","(ng/g head)"],"titleX":-23.4,"titleY":38,"titleLineHeight":10.5}},
"fill":{"field":"geno","type":"nominal","scale":{"domain":["WT","UAS; dysb¹","Rescue"],"range":["#ffffff","#c4c4c4","#646464"]},"legend":{"title":null,"orient":"none","legendX":81,"legendY":-29.2,"rowPadding":-1.2}}}},
{"data":{"name":"bars"},"transform":[{"filter":"datum.p=='H'"}],"mark":{"type":"rule","color":"black","strokeWidth":0.8},"encoding":{"x":{"field":"bar","type":"nominal"},"y":{"field":"mean","type":"quantitative"},"y2":{"field":"upper"}}},
{"data":{"name":"bars"},"transform":[{"filter":"datum.p=='H'"}],"mark":{"type":"tick","orient":"horizontal","size":5,"thickness":0.8,"color":"black"},"encoding":{"x":{"field":"bar","type":"nominal"},"y":{"field":"upper","type":"quantitative"}}},
{"data":{"name":"brackets"},"transform":[{"filter":"datum.p=='H'"}],"mark":{"type":"rule","color":"#333","strokeWidth":0.8},"encoding":{"x":{"field":"a","type":"nominal"},"x2":{"field":"b"},"y":{"field":"y","type":"quantitative"}}},
{"data":{"name":"brackets"},"transform":[{"filter":"datum.p=='H'"}],"mark":{"type":"rule","color":"#333","strokeWidth":0.8},"encoding":{"x":{"field":"a","type":"nominal"},"y":{"field":"ya","type":"quantitative"},"y2":{"field":"y"}}},
{"data":{"name":"brackets"},"transform":[{"filter":"datum.p=='H'"}],"mark":{"type":"rule","color":"#333","strokeWidth":0.8},"encoding":{"x":{"field":"b","type":"nominal"},"y":{"field":"yb","type":"quantitative"},"y2":{"field":"y"}}},
{"data":{"name":"brackets"},"transform":[{"filter":"datum.p=='H' && datum.atE==0"}],"mark":{"type":"text","baseline":"bottom","dy":-1,"fontSize":9.5,"fontWeight":"bold","color":"black"},"encoding":{"x":{"field":"at","type":"nominal"},"y":{"field":"y","type":"quantitative"},"text":{"field":"label"}}},
{"data":{"name":"brackets"},"transform":[{"filter":"datum.p=='H' && datum.atE==1"}],"mark":{"type":"text","baseline":"bottom","dy":-1,"fontSize":9.5,"fontWeight":"bold","color":"black"},"encoding":{"x":{"field":"at","type":"nominal","bandPosition":0},"y":{"field":"y","type":"quantitative"},"text":{"field":"label"}}}
]},
{"width": 1, "height": 80, "data": {"values": []}, "mark": "point", "title": {"text": "I", "offset": 38, "dx": 4, "fontSize": 19, "fontWeight": "normal"}},
{"width": 1, "height": 10, "data": {"values": []}, "mark": "point", "title": {"text": "Memory Rescue", "offset": 40, "dx": 35.7, "fontSize": 13.5, "fontWeight": "bold"}},
{"width": 198, "height": 79, "layer": [
{"data":{"name":"bars"},"transform":[{"filter":"datum.p=='I'"}],"mark":{"type":"bar","stroke":"black","strokeWidth":0.8},"encoding":{
"x":{"field":"bar","type":"nominal","scale":{"type":"band","domain":["i1","i2","i3"],"range":[66,105],"paddingInner":0,"paddingOuter":0.3},"axis":{"title":null,"values":["i2"],"labelExpr":"'Neural Rescue'","labelAngle":0,"labelFontSize":9,"labelPadding":1}},
"y":{"field":"mean","type":"quantitative","scale":{"domain":[0,100],"nice":false},"axis":{"offset":-66,"values":[0,10,20,30,40,50,60,70,80,90,100],"labelExpr":"datum.value % 20 == 0 ? datum.label : ''","title":"Performance Index","titleX":-17.7,"titleY":39}},
"fill":{"field":"geno","type":"nominal","scale":{"domain":["WT","UAS; dysb¹","Rescue"],"range":["#ffffff","#c4c4c4","#646464"]},"legend":{"title":null,"orient":"none","legendX":71,"legendY":-30.2,"rowPadding":-1.2}}}},
{"data":{"name":"bars"},"transform":[{"filter":"datum.p=='I'"}],"mark":{"type":"rule","color":"black","strokeWidth":0.8},"encoding":{"x":{"field":"bar","type":"nominal"},"y":{"field":"mean","type":"quantitative"},"y2":{"field":"upper"}}},
{"data":{"name":"bars"},"transform":[{"filter":"datum.p=='I'"}],"mark":{"type":"tick","orient":"horizontal","size":5,"thickness":0.8,"color":"black"},"encoding":{"x":{"field":"bar","type":"nominal"},"y":{"field":"upper","type":"quantitative"}}},
{"data":{"name":"brackets"},"transform":[{"filter":"datum.p=='I'"}],"mark":{"type":"rule","color":"#333","strokeWidth":0.8},"encoding":{"x":{"field":"a","type":"nominal"},"x2":{"field":"b"},"y":{"field":"y","type":"quantitative"}}},
{"data":{"name":"brackets"},"transform":[{"filter":"datum.p=='I'"}],"mark":{"type":"rule","color":"#333","strokeWidth":0.8},"encoding":{"x":{"field":"a","type":"nominal"},"y":{"field":"ya","type":"quantitative"},"y2":{"field":"y"}}},
{"data":{"name":"brackets"},"transform":[{"filter":"datum.p=='I'"}],"mark":{"type":"rule","color":"#333","strokeWidth":0.8},"encoding":{"x":{"field":"b","type":"nominal"},"y":{"field":"yb","type":"quantitative"},"y2":{"field":"y"}}},
{"data":{"name":"brackets"},"transform":[{"filter":"datum.p=='I' && datum.atE==0"}],"mark":{"type":"text","baseline":"bottom","dy":-1,"fontSize":9.5,"fontWeight":"bold","color":"black"},"encoding":{"x":{"field":"at","type":"nominal"},"y":{"field":"y","type":"quantitative"},"text":{"field":"label"}}},
{"data":{"name":"brackets"},"transform":[{"filter":"datum.p=='I' && datum.atE==1"}],"mark":{"type":"text","baseline":"bottom","dy":-1,"fontSize":9.5,"fontWeight":"bold","color":"black"},"encoding":{"x":{"field":"at","type":"nominal","bandPosition":0},"y":{"field":"y","type":"quantitative"},"text":{"field":"label"}}}
]},
{"width": 1, "height": 10, "data": {"values": []}, "mark": "point", "title": {"text": "J", "offset": 38, "dx": 9, "fontSize": 19, "fontWeight": "normal"}},
{"width": 1, "height": 10, "data": {"values": []}, "mark": "point", "title": {"text": "Locomotion Rescue", "offset": 42, "dx": 27.7, "fontSize": 13.5, "fontWeight": "bold"}},
{"width": 150, "height": 80, "layer": [
{"data":{"name":"bars"},"transform":[{"filter":"datum.p=='J'"}],"mark":{"type":"bar","stroke":"black","strokeWidth":0.8},"encoding":{
"x":{"field":"bar","type":"nominal","scale":{"type":"band","domain":["j1","j2","j3"],"range":[79,119],"paddingInner":0,"paddingOuter":0.3},"axis":{"title":null,"values":["j2"],"labelExpr":"'Glial Rescue'","labelAngle":0,"labelFontSize":9,"labelPadding":1}},
"y":{"field":"mean","type":"quantitative","scale":{"domain":[0,100],"nice":false},"axis":{"offset":-79,"values":[0,10,20,30,40,50,60,70,80,90,100],"labelExpr":"datum.value % 20 == 0 ? datum.label : ''","title":"Activity Index","titleX":-17.1,"titleY":39}},
"fill":{"field":"geno","type":"nominal","scale":{"domain":["WT","UAS; dysb¹","Rescue"],"range":["#ffffff","#c4c4c4","#646464"]},"legend":{"title":null,"orient":"none","legendX":83,"legendY":-29.8,"rowPadding":-1.2}}}},
{"data":{"name":"bars"},"transform":[{"filter":"datum.p=='J'"}],"mark":{"type":"rule","color":"black","strokeWidth":0.8},"encoding":{"x":{"field":"bar","type":"nominal"},"y":{"field":"mean","type":"quantitative"},"y2":{"field":"upper"}}},
{"data":{"name":"bars"},"transform":[{"filter":"datum.p=='J'"}],"mark":{"type":"tick","orient":"horizontal","size":5,"thickness":0.8,"color":"black"},"encoding":{"x":{"field":"bar","type":"nominal"},"y":{"field":"upper","type":"quantitative"}}},
{"data":{"name":"brackets"},"transform":[{"filter":"datum.p=='J'"}],"mark":{"type":"rule","color":"#333","strokeWidth":0.8},"encoding":{"x":{"field":"a","type":"nominal"},"x2":{"field":"b"},"y":{"field":"y","type":"quantitative"}}},
{"data":{"name":"brackets"},"transform":[{"filter":"datum.p=='J'"}],"mark":{"type":"rule","color":"#333","strokeWidth":0.8},"encoding":{"x":{"field":"a","type":"nominal"},"y":{"field":"ya","type":"quantitative"},"y2":{"field":"y"}}},
{"data":{"name":"brackets"},"transform":[{"filter":"datum.p=='J'"}],"mark":{"type":"rule","color":"#333","strokeWidth":0.8},"encoding":{"x":{"field":"b","type":"nominal"},"y":{"field":"yb","type":"quantitative"},"y2":{"field":"y"}}},
{"data":{"name":"brackets"},"transform":[{"filter":"datum.p=='J' && datum.atE==0"}],"mark":{"type":"text","baseline":"bottom","dy":-1,"fontSize":9.5,"fontWeight":"bold","color":"black"},"encoding":{"x":{"field":"at","type":"nominal"},"y":{"field":"y","type":"quantitative"},"text":{"field":"label"}}},
{"data":{"name":"brackets"},"transform":[{"filter":"datum.p=='J' && datum.atE==1"}],"mark":{"type":"text","baseline":"bottom","dy":-1,"fontSize":9.5,"fontWeight":"bold","color":"black"},"encoding":{"x":{"field":"at","type":"nominal","bandPosition":0},"y":{"field":"y","type":"quantitative"},"text":{"field":"label"}}}
]}
]
}
